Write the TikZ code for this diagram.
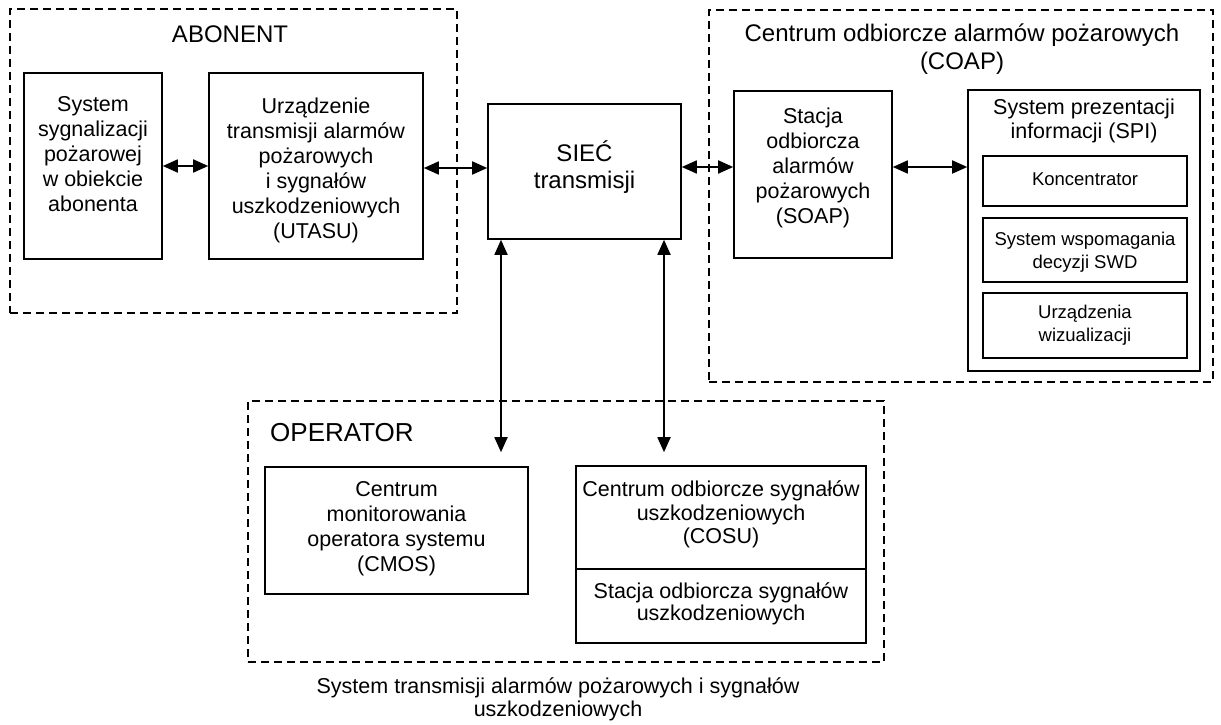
\documentclass[tikz,border=0pt]{standalone}
\usepackage{fontspec}
\setmainfont{Liberation Sans}
\usetikzlibrary{arrows.meta,calc}
\begin{document}
\begin{tikzpicture}[x=1pt,y=-1pt]
\tikzset{
 box/.style={draw, line width=1.6pt, inner sep=0pt, rectangle},
 grp/.style={draw, line width=1.3pt, dash pattern=on 8pt off 5pt, inner sep=0pt, rectangle},
 lbl/.style={align=center, font=\fontsize{21.5}{25}\selectfont, inner sep=0pt},
 small/.style={align=center, font=\fontsize{18.5}{23}\selectfont, inner sep=0pt},
 big/.style={align=center, font=\fontsize{24}{28.5}\selectfont, inner sep=0pt},
 conn/.style={line width=1.8pt, {Triangle[length=15pt,width=13pt]}-{Triangle[length=15pt,width=13pt]}},
}
\fill[white] (0,0) rectangle (1221,725);
\useasboundingbox (0,0) rectangle (1221,725);

% groups
\node[grp, minimum width=447pt, minimum height=304pt] (gA) at (233.5,161) {};
\node[grp, minimum width=504pt, minimum height=372pt] (gC) at (961,196) {};
\node[grp, minimum width=636pt, minimum height=261pt] (gO) at (566,531.5) {};

\node[big] (tA) at (230,34) {ABONENT};
\node[big] (tC) at (962,49) {Centrum odbiorcze alarmów pożarowych\\(COAP)};
\node[big, font=\fontsize{26}{30}\selectfont, anchor=west] (tO) at (270,433) {OPERATOR};

% boxes
\node[box, minimum width=138pt, minimum height=186pt] (sys) at (93,166) {};
\node[lbl] (sysT) at (93,154) {System\\sygnalizacji\\pożarowej\\w obiekcie\\abonenta};
\node[box, minimum width=214pt, minimum height=186pt] (utasu) at (316,166) {};
\node[lbl] (utasuT) at (316,170) {Urządzenie\\transmisji alarmów\\pożarowych\\i sygnałów\\uszkodzeniowych\\(UTASU)};
\node[box, minimum width=193pt, minimum height=135pt] (siec) at (584.5,171.5) {};
\node[big, font=\fontsize{24}{27}\selectfont] (siecT) at (584.5,167.5) {SIEĆ\\transmisji};
\node[box, minimum width=158pt, minimum height=167pt] (soap) at (813,174.5) {};
\node[lbl] (soapT) at (813,168) {Stacja\\odbiorcza\\alarmów\\pożarowych\\(SOAP)};
\node[box, minimum width=232pt, minimum height=281pt] (spi) at (1084,230.5) {};
\node[lbl, font=\fontsize{21.5}{24}\selectfont] (spiT) at (1084,121) {System prezentacji\\informacji (SPI)};
\node[box, minimum width=204pt, minimum height=50pt] (konc) at (1085,181) {};
\node[small] (koncT) at (1085,179) {Koncentrator};
\node[box, minimum width=204pt, minimum height=64pt] (swd) at (1085,250) {};
\node[small] (swdT) at (1085,252) {System wspomagania\\decyzji SWD};
\node[box, minimum width=204pt, minimum height=65pt] (wiz) at (1085,325.5) {};
\node[small] (wizT) at (1085,325) {Urządzenia\\wizualizacji};

\node[box, minimum width=263pt, minimum height=127pt] (cmos) at (396.5,530.5) {};
\node[lbl] (cmosT) at (396.5,528.5) {Centrum\\monitorowania\\operatora systemu\\(CMOS)};
\node[box, minimum width=290pt, minimum height=103pt] (cosu) at (721,517.5) {};
\node[lbl, font=\fontsize{21.5}{23.5}\selectfont] (cosuT) at (721,514.5) {Centrum odbiorcze sygnałów\\uszkodzeniowych\\(COSU)};
\node[box, minimum width=290pt, minimum height=74pt] (sosu) at (721,606) {};
\node[lbl, font=\fontsize{21.5}{22}\selectfont] (sosuT) at (721,603.5) {Stacja odbiorcza sygnałów\\uszkodzeniowych};

\node[lbl, font=\fontsize{21.5}{23}\selectfont] (cap) at (558,699.5) {System transmisji alarmów pożarowych i sygnałów\\uszkodzeniowych};

% connectors
\coordinate (y1) at (0,168);
\coordinate (y2) at (0,167);
\coordinate (xa) at (501,0);
\coordinate (xb) at (664,0);
\draw[conn] (sys.east) -- (utasu.west);
\draw[conn] (utasu.east |- y1) -- (siec.west |- y1);
\draw[conn] (siec.east |- y2) -- (soap.west |- y2);
\draw[conn] (soap.east |- y2) -- (spi.west |- y2);
\draw[conn, shorten >=14pt] (siec.south -| xa) -- (cmos.north -| xa);
\draw[conn, shorten >=13pt] (siec.south -| xb) -- (cosu.north -| xb);
\end{tikzpicture}
\end{document}
